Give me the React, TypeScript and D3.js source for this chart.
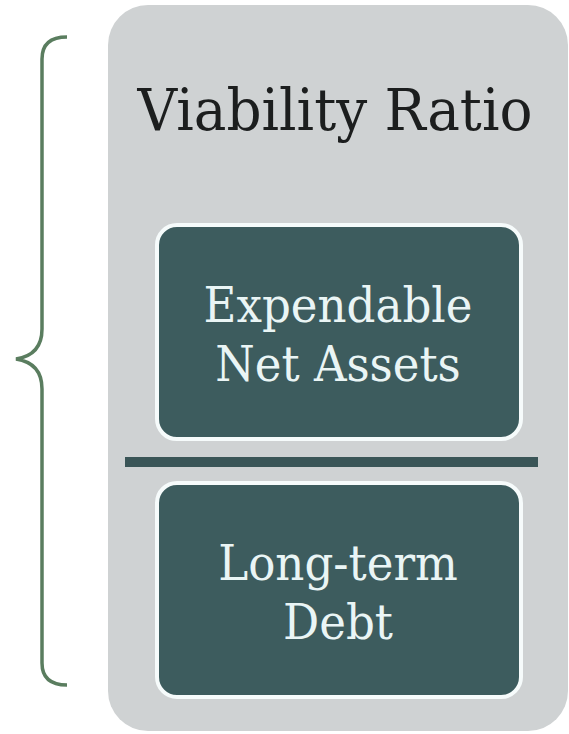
import * as d3 from "d3";
import React from "react";

const title = "Viability Ratio";
const topLines = ["Expendable", "Net Assets"];
const bottomLines = ["Long-term", "Debt"];

const width = 569;
const height = 734;

export default function App() {
  const svgRef = React.useRef<SVGSVGElement | null>(null);

  React.useEffect(() => {
    const svg = d3.select(svgRef.current);
    svg.selectAll("*").remove();

    const font = "'DejaVu Serif', serif";

    // outer grey panel
    svg
      .append("rect")
      .attr("x", 108)
      .attr("y", 5)
      .attr("width", 460)
      .attr("height", 726)
      .attr("rx", 40)
      .attr("fill", "#cfd2d3");

    svg
      .append("text")
      .attr("x", 335)
      .attr("y", 130)
      .attr("text-anchor", "middle")
      .attr("font-family", font)
      .attr("font-size", 57)
      .attr("textLength", 395)
      .attr("lengthAdjust", "spacingAndGlyphs")
      .attr("fill", "#1c1e1e")
      .text(title);

    // the two dark boxes, stacked by a band scale
    const y = d3
      .scaleBand<number>()
      .domain([0, 1])
      .range([225, 697])
      .paddingInner(0.17);

    const groups = [topLines, bottomLines];
    groups.forEach((lines, i) => {
      const y0 = y(i) ?? 0;
      svg
        .append("rect")
        .attr("x", 157)
        .attr("y", y0)
        .attr("width", 364)
        .attr("height", y.bandwidth())
        .attr("rx", 20)
        .attr("fill", "#3d5c5e")
        .attr("stroke", "#f6fbfb")
        .attr("stroke-width", 4);

      lines.forEach((line, j) => {
        const t = svg
          .append("text")
          .attr("x", 338)
          .attr("y", y0 + 97 + j * 59)
          .attr("text-anchor", "middle")
          .attr("font-family", font)
          .attr("font-size", 48)
          .attr("fill", "#eaf5f5")
          .text(line);
        // slightly condensed, like the slab face of the original
        const natural = (t.node() as SVGTextElement).getComputedTextLength();
        t.attr("textLength", natural * 0.94).attr("lengthAdjust", "spacingAndGlyphs");
      });
    });

    // divider bar
    svg
      .append("rect")
      .attr("x", 125)
      .attr("y", 457)
      .attr("width", 413)
      .attr("height", 10)
      .attr("fill", "#3a5557");

    // left curly brace
    const p = d3.path();
    const bx = 42;
    const top = 37;
    const bottom = 685;
    const mid = 359;
    const tipX = 16;
    const tip = 67;
    p.moveTo(tip, top);
    p.quadraticCurveTo(bx, top, bx, top + 22);
    p.lineTo(bx, mid - 30);
    p.quadraticCurveTo(bx, mid - 4, tipX, mid);
    p.quadraticCurveTo(bx, mid + 4, bx, mid + 30);
    p.lineTo(bx, bottom - 22);
    p.quadraticCurveTo(bx, bottom, tip, bottom);

    svg
      .append("path")
      .attr("d", p.toString())
      .attr("fill", "none")
      .attr("stroke", "#5a7d5f")
      .attr("stroke-width", 3.5);
  }, []);

  return (
    <svg
      ref={svgRef}
      width={width}
      height={height}
      viewBox={`0 0 ${width} ${height}`}
      style={{ position: "absolute", left: 0, top: 0, background: "#fff" }}
    ></svg>
  );
}
